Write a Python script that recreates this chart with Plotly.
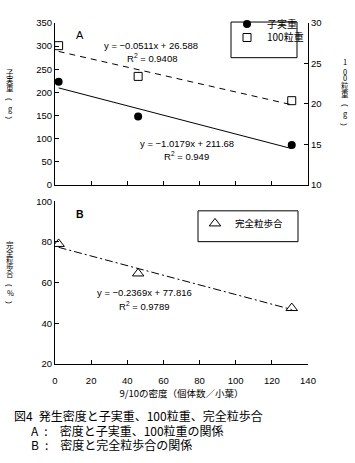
import plotly.graph_objects as go

# ---- data ----
density = [2, 46, 131]
seed_weight = [223, 148, 86]          # 子実重 (g)
hundred_grain = [27.2, 23.4, 20.4]    # 100粒重 (g)
complete_ratio = [79, 64.5, 47.5]     # 完全粒歩合 (%)

fit_seed = (-1.0179, 211.68)
fit_grain = (-0.0511, 26.588)
fit_ratio = (-0.2369, 77.816)

W, H = 355, 463
L, R, T, B = 55, 47, 10, 99
PW, PH = W - L - R, H - T - B

def px(x):
    return (x - L) / PW

def py(y):
    return (H - B - y) / PH

FONT = "Liberation Sans, Arial, Noto Sans CJK JP, sans-serif"
JFONT = "Noto Sans CJK JP, Liberation Sans, sans-serif"

fx = [min(density), max(density)]

fig = go.Figure()
# top panel
fig.add_trace(go.Scatter(x=fx, y=[fit_seed[0] * v + fit_seed[1] for v in fx], mode="lines",
                         line=dict(color="black", width=1), showlegend=False, hoverinfo="skip",
                         xaxis="x", yaxis="y"))
fig.add_trace(go.Scatter(x=fx, y=[fit_grain[0] * v + fit_grain[1] for v in fx], mode="lines",
                         line=dict(color="black", width=1, dash="6px,5px"), showlegend=False,
                         hoverinfo="skip", xaxis="x", yaxis="y2"))
fig.add_trace(go.Scatter(x=density, y=seed_weight, mode="markers", name="子実重",
                         marker=dict(symbol="circle", size=8, color="black"),
                         xaxis="x", yaxis="y", legend="legend"))
fig.add_trace(go.Scatter(x=density, y=hundred_grain, mode="markers", name="100粒重",
                         marker=dict(symbol="square-open", size=8, color="black", line=dict(width=1)),
                         xaxis="x", yaxis="y2", legend="legend3"))
# bottom panel
fig.add_trace(go.Scatter(x=fx, y=[fit_ratio[0] * v + fit_ratio[1] for v in fx], mode="lines",
                         line=dict(color="black", width=1, dash="8px,3px,2px,3px"), showlegend=False,
                         hoverinfo="skip", xaxis="x2", yaxis="y3"))
fig.add_trace(go.Scatter(x=density, y=complete_ratio, mode="markers", name="完全粒歩合",
                         marker=dict(symbol="triangle-up-open", size=10, color="black", line=dict(width=1)),
                         xaxis="x2", yaxis="y3", legend="legend2"))

top_dom = [py(178), 1]
bot_dom = [0, py(195)]
axcommon = dict(showline=True, linecolor="black", linewidth=1, ticks="inside", ticklen=4,
                tickcolor="black", showgrid=False, zeroline=False,
                tickfont=dict(family=FONT, size=9.5, color="black"))

leg_common = dict(xanchor="left", yanchor="top", bgcolor="rgba(0,0,0,0)", borderwidth=0,
                  itemwidth=30, itemclick=False, itemdoubleclick=False)

fig.update_layout(
    width=W, height=H, margin=dict(l=L, r=R, t=T, b=B),
    paper_bgcolor="white", plot_bgcolor="white",
    font=dict(family=FONT, color="black"),
    xaxis=dict(domain=[0, 1], range=[0, 140], dtick=20, anchor="y", showticklabels=False, **axcommon),
    yaxis=dict(domain=top_dom, range=[0, 350], dtick=50, anchor="x", **axcommon),
    yaxis2=dict(range=[10, 30], dtick=5, overlaying="y", side="right", anchor="x", **axcommon),
    xaxis2=dict(domain=[0, 1], range=[0, 140], dtick=20, anchor="y3", ticklabelstandoff=8,
                title=dict(text="9/10の密度（個体数／小葉）", font=dict(family=JFONT, size=9.5), standoff=4),
                **axcommon),
    yaxis3=dict(domain=bot_dom, range=[20, 100], dtick=20, anchor="x2", **axcommon),
    legend=dict(x=px(227), y=py(-4), font=dict(family=JFONT, size=10), **leg_common),
    legend3=dict(x=px(227), y=py(10), font=dict(family=JFONT, size=10), **leg_common),
    legend2=dict(x=px(195), y=py(203), font=dict(family=JFONT, size=9.5), **leg_common),
)

shapes = [
    dict(type="rect", xref="paper", yref="paper", x0=px(231), x1=px(297), y0=py(46), y1=py(9),
         line=dict(color="black", width=1)),
    dict(type="rect", xref="paper", yref="paper", x0=px(198), x1=px(298), y0=py(237), y1=py(205),
         line=dict(color="black", width=1)),
]
fig.update_layout(shapes=shapes)

ann = []
def text(x, y, s, size=9.5, family=FONT, xanchor="center", angle=0):
    ann.append(dict(xref="paper", yref="paper", x=px(x), y=py(y), text=s, showarrow=False,
                    xanchor=xanchor, yanchor="middle", textangle=angle, borderpad=0,
                    font=dict(family=family, size=size, color="black")))

text(80, 22, "A", size=11)
text(80, 208, "<b>B</b>", size=10.5)
text(151, 33, "y = −0.0511x + 26.588")
text(152, 46, "R<sup>2</sup> = 0.9408")
text(187, 135, "y = −1.0179x + 211.68")
text(186, 148, "R<sup>2</sup> = 0.949")
text(144, 290, "y = −0.2369x + 77.816")
text(144, 304, "R<sup>2</sup> = 0.9789")

def vtitle(x, chars, ys):
    for ch, y in zip(chars, ys):
        if ch in "()":
            text(x, y, ch, size=7.5, family=FONT, angle=90)
        else:
            text(x, y, ch, size=7.5, family=JFONT)

vtitle(10, ["子", "実", "重", "(", "g", ")"], [61, 69, 77, 89, 99, 108])
vtitle(345, ["1", "0", "0", "粒", "重", "(", "g", ")"], [50, 60, 67, 75, 83, 95, 104, 115])
vtitle(10, ["完", "全", "粒", "歩", "合", "(", "%", ")"], [240, 248, 255, 263, 270, 282, 290, 300])

text(13, 417, "図4\u2002発生密度と子実重、100粒重、完全粒歩合", size=12, family=JFONT, xanchor="left")
text(30, 433, "A\u2002:\u2003密度と子実重、100粒重の関係", size=12, family=JFONT, xanchor="left")
text(30, 448, "B\u2002:\u2003密度と完全粒歩合の関係", size=12, family=JFONT, xanchor="left")

fig.update_layout(annotations=ann)
fig.write_html("out.html", config={"displayModeBar": False},
               post_script="document.body.style.margin='0px';")
